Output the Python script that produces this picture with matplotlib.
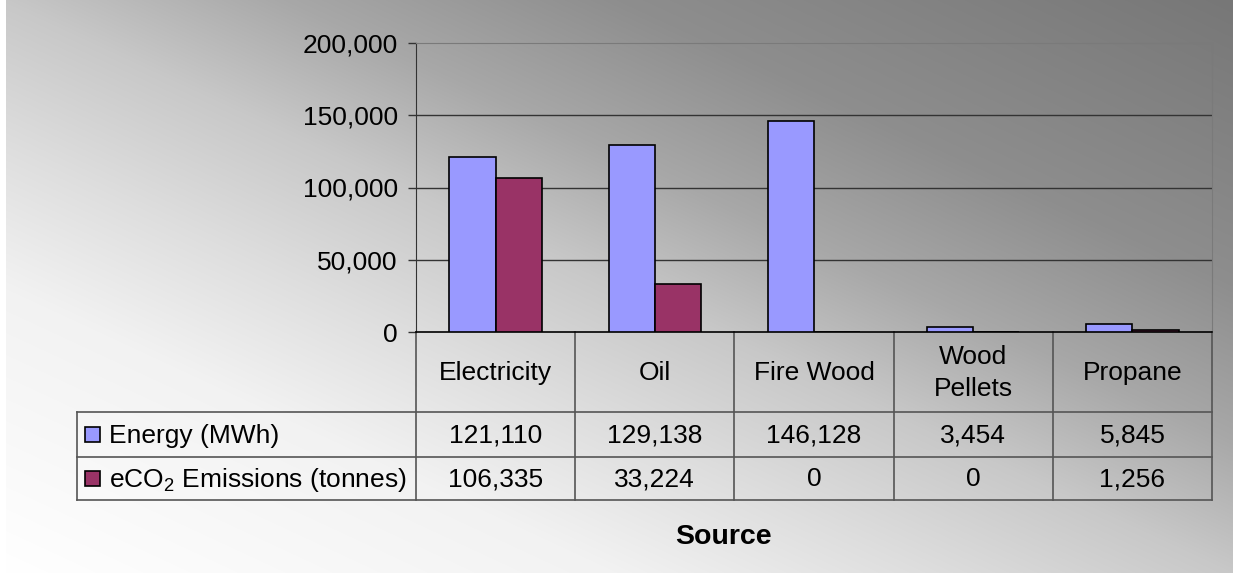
import matplotlib

matplotlib.use("Agg")

import matplotlib.pyplot as plt
import numpy as np
from matplotlib.patches import Rectangle
from matplotlib.ticker import FuncFormatter


categories = ["Electricity", "Oil", "Fire Wood", "Wood\nPellets", "Propane"]
energy_mwh = [121110, 129138, 146128, 3454, 5845]
emissions_t = [106335, 33224, 0, 0, 1256]
series_names = ["Energy (MWh)", "eCO$_\\mathregular{2}$ Emissions (tonnes)"]
series_colors = ["#9999FF", "#993366"]
y_ticks = [0, 50000, 100000, 150000, 200000]
x_title = "Source"

# canvas and layout, in pixels
W, H = 1233, 573
PLOT_L, PLOT_R, PLOT_T, PLOT_B = 416, 1212, 43, 332
TABLE_L = 77
ROW_LINES = [412, 457, 500]
FS = 19.0


def setup_plot_style() -> None:
    plt.rcParams["font.family"] = ["Liberation Sans", "DejaVu Sans"]
    plt.rcParams["mathtext.fontset"] = "custom"
    plt.rcParams["mathtext.rm"] = "Liberation Sans"


def background(ax) -> None:
    # diagonal grey fade, white in the lower left corner
    xs = np.linspace(0, 1, W)
    ys = np.linspace(1, 0, H)
    u, v = np.meshgrid(xs, ys)
    s = u + v
    grey = np.interp(s, [0, 0.5, 0.75, 1.0, 1.23, 1.5, 2.0],
                     [255, 242, 222, 200, 168, 142, 119]) / 255.0
    img = np.dstack([grey, grey, grey])
    ax.imshow(img, extent=(0, W, H, 0), aspect="auto", zorder=0, interpolation="bilinear")
    ax.add_patch(Rectangle((0, 0), 6, H, color="white", zorder=1, lw=0))


def main() -> None:
    setup_plot_style()
    fig = plt.figure(figsize=(W / 100, H / 100), dpi=100)

    bg = fig.add_axes([0, 0, 1, 1])
    bg.set_xlim(0, W)
    bg.set_ylim(H, 0)
    bg.axis("off")
    background(bg)

    ax = fig.add_axes([PLOT_L / W, 1 - PLOT_B / H, (PLOT_R - PLOT_L) / W, (PLOT_B - PLOT_T) / H])
    ax.set_facecolor("none")

    x = np.arange(len(categories))
    bw = 0.29
    ax.bar(x - bw / 2, energy_mwh, bw, color=series_colors[0], edgecolor="black", lw=1.2, zorder=3)
    ax.bar(x + bw / 2, emissions_t, bw, color=series_colors[1], edgecolor="black", lw=1.2, zorder=3)

    ax.set_xlim(-0.5, len(categories) - 0.5)
    ax.set_ylim(y_ticks[0], y_ticks[-1])
    ax.set_yticks(y_ticks)
    ax.yaxis.set_major_formatter(FuncFormatter(lambda val, _: f"{val:,.0f}"))
    ax.set_xticks([])
    ax.tick_params(axis="y", length=5.8, width=1, color="#333333", labelsize=FS, pad=7.2)
    for t in y_ticks[1:-1]:
        ax.axhline(t, color="#333333", lw=1, zorder=1)
    ax.spines["left"].set_color("#333333")
    ax.spines["bottom"].set_color("black")
    ax.spines["bottom"].set_linewidth(1.2)
    for side in ("top", "right"):
        ax.spines[side].set_color("#7a7a7a")

    # data table under the plot
    line_kw = dict(color="#555555", lw=1.2, zorder=2)
    col_w = (PLOT_R - PLOT_L) / len(categories)
    for i in range(len(categories) + 1):
        bg.plot([PLOT_L + i * col_w] * 2, [PLOT_B, ROW_LINES[-1]], **line_kw)
    bg.plot([TABLE_L, TABLE_L], [ROW_LINES[0], ROW_LINES[-1]], **line_kw)
    for yl in ROW_LINES:
        bg.plot([TABLE_L, PLOT_R], [yl, yl], **line_kw)

    head_mid = (PLOT_B + ROW_LINES[0]) / 2
    for i, cat in enumerate(categories):
        cx = PLOT_L + (i + 0.5) * col_w
        bg.text(cx, head_mid + 1, cat, ha="center", va="center", fontsize=FS, linespacing=1.45, zorder=3)

    rows = [energy_mwh, emissions_t]
    for r, (name, vals, color) in enumerate(zip(series_names, rows, series_colors)):
        ym = (ROW_LINES[r] + ROW_LINES[r + 1]) / 2
        bg.add_patch(Rectangle((85, ym - 7.5), 15, 15, facecolor=color, edgecolor="black", lw=1.2, zorder=3))
        bg.text(109, ym + 1, name, ha="left", va="center", fontsize=FS, zorder=3)
        for i, val in enumerate(vals):
            cx = PLOT_L + (i + 0.5) * col_w
            bg.text(cx, ym + 1, f"{val:,}", ha="center", va="center", fontsize=FS, zorder=3)

    bg.text(723, 537, x_title, ha="center", va="center", fontsize=20.5, fontweight="bold", zorder=3)

    fig.savefig("out.png", dpi=100)
    plt.close(fig)


if __name__ == "__main__":
    main()
